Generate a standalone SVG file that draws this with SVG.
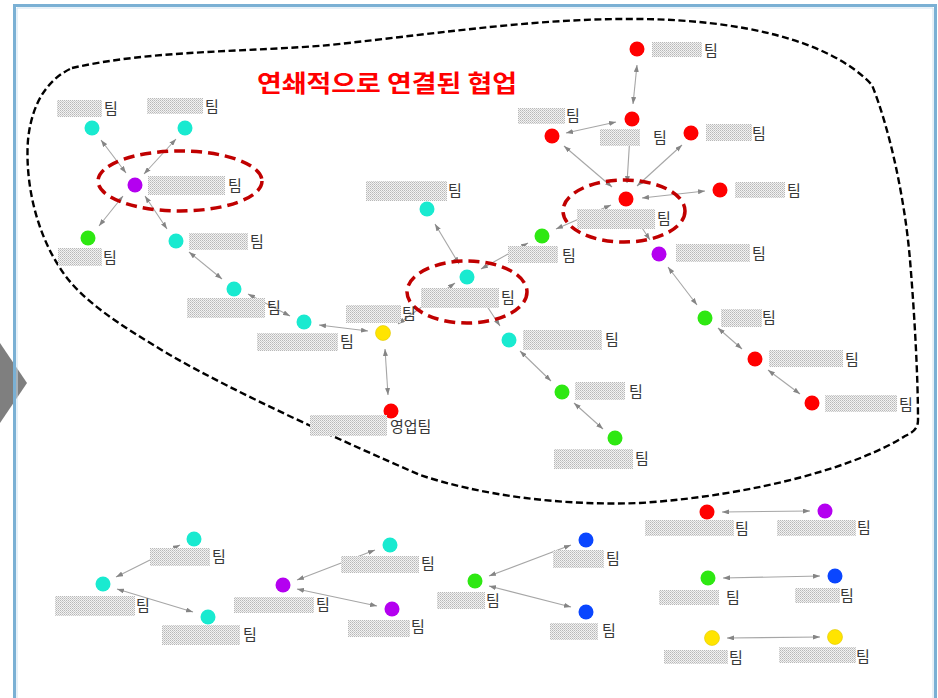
<svg xmlns="http://www.w3.org/2000/svg" width="938" height="698" viewBox="0 0 938 698">
<style>
.n{stroke:none}
.cy{fill:#19ead0}.pu{fill:#b400f0}.gr{fill:#2ee812}.rd{fill:#ff0000}.ye{fill:#ffe400;stroke:#e0c800;stroke-width:0.6}.bl{fill:#0a46ff}
.m{fill:url(#dots)}
.t{font-family:"Noto Sans CJK KR","Noto Sans",sans-serif;font-size:15px;fill:#383838}
.c line{stroke:#a6a6a6;stroke-width:1.1;marker-start:url(#ah);marker-end:url(#ah)}
.hl{fill:none;stroke:#c00000;stroke-width:3.5;stroke-dasharray:11 6}
</style>
<defs>
<pattern id="dots" width="2" height="2" patternUnits="userSpaceOnUse">
<rect width="2" height="2" fill="#f2f2f2"/>
<rect width="1" height="1" fill="#b8b8b8"/>
<rect x="1" y="1" width="1" height="1" fill="#cccccc"/>
</pattern>
<marker id="ah" viewBox="0 0 7 5" refX="7" refY="2.5" markerWidth="7" markerHeight="5" markerUnits="userSpaceOnUse" orient="auto-start-reverse">
<path d="M0,0 L7,2.5 L0,5 Z" fill="#858585"/>
</marker>
</defs>
<rect width="938" height="698" fill="#ffffff"/>
<polygon points="0,343 27,383 0,423" fill="#7f7f7f"/>
<path d="M14.5,698 V5.5 H935.5 V698" fill="none" stroke="#7ab0d4" stroke-width="3"/>
<path d="M17,698 V8 H933 V698" fill="none" stroke="#cfe2f0" stroke-width="1"/>

<path id="blob" d="M72,68 C150,50 250,52 330,45 C450,32 540,18 640,19 C740,20 830,40 872,85 C890,130 905,200 910,260 C915,320 918,380 918,420 C918,428 914,432 905,436 C860,465 760,495 640,503 C560,506 480,495 420,475 C340,440 240,395 170,355 C120,325 80,300 60,268 C35,230 25,180 28,140 C32,100 50,78 72,68 Z" fill="none" stroke="#000000" stroke-width="2.4" stroke-dasharray="7 3.5"/>

<text x="257" y="92" font-family="'Noto Sans CJK KR','Noto Sans',sans-serif" font-size="24" font-weight="bold" fill="#ff0000" textLength="260" lengthAdjust="spacingAndGlyphs">연쇄적으로 연결된 협업</text>

<g id="connectors" class="c">
<line x1="101" y1="140" x2="126" y2="173"/>
<line x1="176" y1="139" x2="144" y2="174"/>
<line x1="123" y1="196" x2="99" y2="226"/>
<line x1="145" y1="196" x2="167" y2="229"/>
<line x1="189" y1="252" x2="222" y2="279"/>
<line x1="248" y1="294" x2="290" y2="316"/>
<line x1="319" y1="325" x2="368" y2="331"/>
<line x1="385" y1="349" x2="388" y2="395"/>
<line x1="398" y1="324" x2="455" y2="283"/>
<line x1="459" y1="264" x2="435" y2="224"/>
<line x1="481" y1="269" x2="528" y2="243"/>
<line x1="556" y1="229" x2="611" y2="205"/>
<line x1="477" y1="291" x2="500" y2="326"/>
<line x1="520" y1="351" x2="551" y2="381"/>
<line x1="574" y1="403" x2="603" y2="429"/>
<line x1="637" y1="65" x2="633" y2="104"/>
<line x1="616" y1="122" x2="566" y2="133"/>
<line x1="612" y1="187" x2="564" y2="146"/>
<line x1="627" y1="183" x2="630" y2="135"/>
<line x1="637" y1="186" x2="682" y2="145"/>
<line x1="642" y1="198" x2="705" y2="191"/>
<line x1="633" y1="214" x2="650" y2="240"/>
<line x1="668" y1="267" x2="697" y2="305"/>
<line x1="718" y1="328" x2="742" y2="349"/>
<line x1="768" y1="370" x2="800" y2="394"/>
<line x1="116" y1="577" x2="180" y2="545"/>
<line x1="117" y1="589" x2="193" y2="612"/>
<line x1="297" y1="580" x2="375" y2="550"/>
<line x1="297" y1="589" x2="377" y2="606"/>
<line x1="489" y1="576" x2="571" y2="545"/>
<line x1="489" y1="586" x2="571" y2="607"/>
<line x1="722" y1="512" x2="810" y2="511"/>
<line x1="723" y1="578" x2="820" y2="576"/>
<line x1="727" y1="638" x2="820" y2="637"/>
</g>

<g id="highlights">
<ellipse class="hl" cx="180" cy="181" rx="82" ry="30"/>
<ellipse class="hl" cx="467" cy="292" rx="60" ry="31"/>
<ellipse class="hl" cx="624" cy="211" rx="61" ry="31"/>
</g>

<g id="nA"><circle class="n cy" cx="92" cy="128" r="7.5"/><rect class="m" x="57" y="100" width="45" height="17"/><text class="t" x="104" y="114">팀</text></g>
<g id="nB"><circle class="n cy" cx="185" cy="128" r="7.5"/><rect class="m" x="147" y="98" width="56" height="16"/><text class="t" x="205" y="112">팀</text></g>
<g id="nC"><circle class="n pu" cx="135" cy="185" r="7.5"/><rect class="m" x="148" y="176" width="77" height="19"/><text class="t" x="228" y="191">팀</text></g>
<g id="nD"><circle class="n gr" cx="88" cy="238" r="7.5"/><rect class="m" x="58" y="248" width="44" height="18"/><text class="t" x="103" y="263">팀</text></g>
<g id="nE"><circle class="n cy" cx="176" cy="241" r="7.5"/><rect class="m" x="189" y="233" width="59" height="17"/><text class="t" x="250" y="247">팀</text></g>
<g id="nF"><circle class="n cy" cx="234" cy="289" r="7.5"/><rect class="m" x="187" y="298" width="78" height="20"/><text class="t" x="267" y="313">팀</text></g>
<g id="nG"><circle class="n cy" cx="304" cy="322" r="7.5"/><rect class="m" x="257" y="333" width="81" height="18"/><text class="t" x="340" y="347">팀</text></g>
<g id="nH"><circle class="n ye" cx="383" cy="333" r="7.5"/><rect class="m" x="346" y="305" width="55" height="18"/><text class="t" x="402" y="319">팀</text></g>
<g id="nI"><circle class="n rd" cx="391" cy="411" r="7.5"/><rect class="m" x="310" y="415" width="77" height="21"/><text class="t" x="390" y="432">영업팀</text></g>
<g id="nJ"><circle class="n cy" cx="467" cy="277" r="7.5"/><rect class="m" x="421" y="288" width="78" height="20"/><text class="t" x="501" y="303">팀</text></g>
<g id="nK"><circle class="n cy" cx="427" cy="209" r="7.5"/><rect class="m" x="366" y="181" width="81" height="20"/><text class="t" x="448" y="196">팀</text></g>
<g id="nL"><circle class="n gr" cx="542" cy="236" r="7.5"/><rect class="m" x="508" y="246" width="50" height="17"/><text class="t" x="562" y="261">팀</text></g>
<g id="nM"><circle class="n rd" cx="626" cy="199" r="7.5"/><rect class="m" x="577" y="209" width="78" height="20"/><text class="t" x="657" y="224">팀</text></g>
<g id="nN"><circle class="n cy" cx="509" cy="340" r="7.5"/><rect class="m" x="523" y="330" width="79" height="20"/><text class="t" x="605" y="345">팀</text></g>
<g id="nO"><circle class="n gr" cx="562" cy="392" r="7.5"/><rect class="m" x="575" y="382" width="50" height="18"/><text class="t" x="629" y="397">팀</text></g>
<g id="nP"><circle class="n gr" cx="615" cy="438" r="7.5"/><rect class="m" x="554" y="449" width="79" height="20"/><text class="t" x="635" y="464">팀</text></g>
<g id="nQ"><circle class="n rd" cx="637" cy="49" r="7.5"/><rect class="m" x="652" y="42" width="50" height="15"/><text class="t" x="704" y="56">팀</text></g>
<g id="nR"><circle class="n rd" cx="632" cy="119" r="7.5"/><rect class="m" x="600" y="129" width="40" height="17"/><text class="t" x="653" y="143">팀</text></g>
<g id="nS"><circle class="n rd" cx="552" cy="136" r="7.5"/><rect class="m" x="518" y="108" width="47" height="16"/><text class="t" x="566" y="121">팀</text></g>
<g id="nT"><circle class="n rd" cx="691" cy="133" r="7.5"/><rect class="m" x="706" y="124" width="46" height="17"/><text class="t" x="752" y="139">팀</text></g>
<g id="nU"><circle class="n rd" cx="720" cy="190" r="7.5"/><rect class="m" x="735" y="182" width="50" height="16"/><text class="t" x="787" y="196">팀</text></g>
<g id="nV"><circle class="n pu" cx="659" cy="254" r="7.5"/><rect class="m" x="676" y="244" width="74" height="18"/><text class="t" x="752" y="259">팀</text></g>
<g id="nW"><circle class="n gr" cx="705" cy="318" r="7.5"/><rect class="m" x="721" y="309" width="41" height="18"/><text class="t" x="762" y="323">팀</text></g>
<g id="nX"><circle class="n rd" cx="755" cy="359" r="7.5"/><rect class="m" x="769" y="350" width="74" height="17"/><text class="t" x="845" y="365">팀</text></g>
<g id="nY"><circle class="n rd" cx="812" cy="403" r="7.5"/><rect class="m" x="825" y="395" width="72" height="17"/><text class="t" x="899" y="410">팀</text></g>

<g id="na"><circle class="n cy" cx="103" cy="584" r="7.5"/><rect class="m" x="55" y="596" width="80" height="20"/><text class="t" x="136" y="611">팀</text></g>
<g id="nb"><circle class="n cy" cx="194" cy="539" r="7.5"/><rect class="m" x="150" y="548" width="60" height="18"/><text class="t" x="212" y="562">팀</text></g>
<g id="nc"><circle class="n cy" cx="208" cy="617" r="7.5"/><rect class="m" x="162" y="625" width="78" height="20"/><text class="t" x="243" y="640">팀</text></g>
<g id="nd"><circle class="n pu" cx="283" cy="585" r="7.5"/><rect class="m" x="234" y="597" width="80" height="16"/><text class="t" x="316" y="610">팀</text></g>
<g id="ne"><circle class="n cy" cx="390" cy="545" r="7.5"/><rect class="m" x="341" y="556" width="78" height="17"/><text class="t" x="421" y="569">팀</text></g>
<g id="nf"><circle class="n pu" cx="392" cy="609" r="7.5"/><rect class="m" x="348" y="620" width="62" height="17"/><text class="t" x="411" y="632">팀</text></g>
<g id="ng"><circle class="n gr" cx="475" cy="581" r="7.5"/><rect class="m" x="437" y="592" width="48" height="17"/><text class="t" x="486" y="606">팀</text></g>
<g id="nh"><circle class="n bl" cx="586" cy="540" r="7.5"/><rect class="m" x="553" y="550" width="51" height="18"/><text class="t" x="606" y="564">팀</text></g>
<g id="ni"><circle class="n bl" cx="586" cy="612" r="7.5"/><rect class="m" x="550" y="623" width="48" height="17"/><text class="t" x="602" y="636">팀</text></g>
<g id="nj"><circle class="n rd" cx="707" cy="512" r="7.5"/><rect class="m" x="645" y="520" width="89" height="16"/><text class="t" x="735" y="534">팀</text></g>
<g id="nk"><circle class="n pu" cx="825" cy="511" r="7.5"/><rect class="m" x="777" y="520" width="79" height="16"/><text class="t" x="857" y="533">팀</text></g>
<g id="nl"><circle class="n gr" cx="708" cy="578" r="7.5"/><rect class="m" x="659" y="590" width="60" height="15"/><text class="t" x="726" y="603">팀</text></g>
<g id="nm"><circle class="n bl" cx="835" cy="576" r="7.5"/><rect class="m" x="795" y="588" width="45" height="15"/><text class="t" x="840" y="601">팀</text></g>
<g id="nn"><circle class="n ye" cx="712" cy="638" r="7.5"/><rect class="m" x="664" y="650" width="64" height="14"/><text class="t" x="729" y="663">팀</text></g>
<g id="no"><circle class="n ye" cx="835" cy="637" r="7.5"/><rect class="m" x="779" y="647" width="77" height="16"/><text class="t" x="856" y="662">팀</text></g>
</svg>
